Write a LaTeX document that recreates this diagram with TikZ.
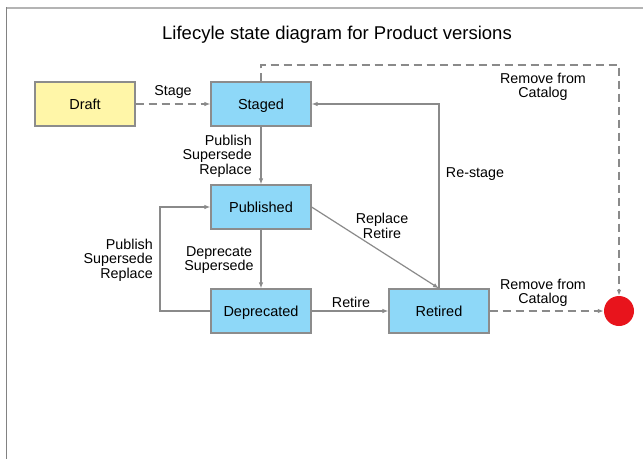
\documentclass[tikz,border=0pt]{standalone}
\usepackage{fontspec}
\setmainfont{Liberation Sans}
\usetikzlibrary{arrows.meta}
\definecolor{lineg}{HTML}{8A8A8A}
\definecolor{boxb}{HTML}{8ED8F8}
\definecolor{boxy}{HTML}{FFF6A8}
\definecolor{edgeb}{HTML}{8C8C8C}
\definecolor{endred}{HTML}{E8141C}
\tikzset{
  statebox/.style={draw=edgeb, line width=1.2pt, fill=boxb, minimum width=100pt, minimum height=44pt, inner sep=0pt, text height=13.4pt, text depth=3pt, font=\fontsize{14.5}{15}\selectfont},
  conn/.style={draw=lineg, line width=1.2pt, -{Latex[length=6pt,width=4.5pt]}},
  dconn/.style={conn, dash pattern=on 8pt off 5pt},
  lbl/.style={font=\fontsize{14.3}{14.6}\selectfont, inner sep=0pt, align=center, yshift=-2pt}
}
\begin{document}
\begin{tikzpicture}[x=1pt,y=-1pt]
\useasboundingbox (0,0) rectangle (643,459);
\fill[white] (0,0) rectangle (643,459);
% frame
\draw[color={rgb,255:red,180;green,180;blue,180}, line width=2pt] (6,8) -- (643,8);
\draw[color={rgb,255:red,130;green,130;blue,130}, line width=1.5pt] (6.5,7) -- (6.5,459);
% title
\node[font=\fontsize{18.5}{20}\selectfont, inner sep=0pt] (title) at (337,35) {Lifecyle state diagram for Product versions};
% states
\node[statebox, fill=boxy] (draft) at (85,104) {Draft};
\node[statebox] (staged) at (261,104) {Staged};
\node[statebox] (pub) at (261,207) {Published};
\node[statebox] (dep) at (261,311) {Deprecated};
\node[statebox] (ret) at (439,311) {Retired};
\node[circle, fill=endred, minimum size=30pt, inner sep=0pt] (endc) at (619,311) {};
% connectors
\draw[dconn] (draft) -- (staged);
\draw[conn] (staged) -- (pub);
\draw[conn] (pub) -- (dep);
\draw[conn] (dep.west) -- (160,311) -- (160,207) -- (pub.west);
\draw[conn] (pub.east) -- (ret.north);
\draw[conn] (dep) -- (ret);
\draw[conn] (ret.north) -- (439,104) -- (staged.east);
\draw[dconn] (ret) -- (endc);
\draw[dconn] (staged.north) -- (261,65) -- (619,65) -- (endc.north);
% labels
\node[lbl] (lstage) at (173,90) {Stage};
\node[lbl, align=right, anchor=east] (lpub1) at (252,154) {Publish\\Supersede\\Replace};
\node[lbl, align=right, anchor=east] (lpub2) at (153,258) {Publish\\Supersede\\Replace};
\node[lbl] (ldep) at (219,258) {Deprecate\\Supersede};
\node[lbl] (lrep) at (382,224) {Replace\\Retire};
\node[lbl] (lret) at (351,300) {Retire};
\node[lbl] (lres) at (475,172) {Re-stage};
\node[lbl] (lrm1) at (543,85) {Remove from\\Catalog};
\node[lbl] (lrm2) at (543,291) {Remove from\\Catalog};
\end{tikzpicture}
\end{document}
